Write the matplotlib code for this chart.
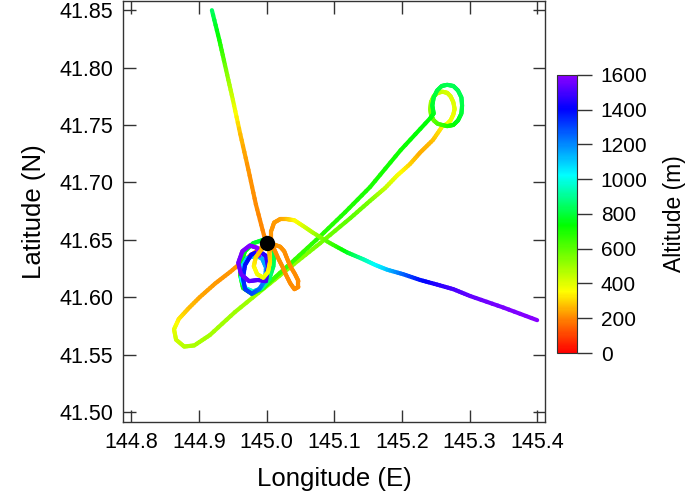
import numpy as np
import matplotlib
matplotlib.use('Agg')
import matplotlib.pyplot as plt
from matplotlib.collections import LineCollection
from matplotlib.colors import LinearSegmentedColormap, Normalize

plt.rcParams['font.family'] = ['Liberation Sans', 'DejaVu Sans']

# flight A: SW hairpin -> NE loops -> back to the circles over the airport
lon_a = [145.001, 144.987, 144.968, 144.946, 144.924, 144.901, 144.884, 144.870, 144.863, 144.866,
         144.878, 144.893, 144.916, 144.953, 145.005, 145.047, 145.079, 145.124, 145.153, 145.175,
         145.193, 145.212, 145.227, 145.246,
         # NE yellow loop
         145.260, 145.267, 145.272, 145.276, 145.278, 145.276, 145.272, 145.267, 145.260, 145.253,
         145.247, 145.243, 145.242, 145.243, 145.247, 145.253,
         # NE green loop
         145.267, 145.276, 145.283, 145.288, 145.289, 145.288, 145.283, 145.276, 145.267, 145.259,
         145.252, 145.247, 145.245, 145.247, 145.242,
         # back SW
         145.198, 145.153, 145.116, 145.079, 145.042, 145.008, 144.993,
         # circles over the airport
         144.978, 144.965, 144.961, 144.962, 144.968, 144.980, 144.995, 145.007, 145.011, 145.010,
         145.004, 144.993,
         144.980, 144.968, 144.962, 144.964, 144.971, 144.983, 144.993, 144.999, 144.998, 144.989,
         144.978, 144.968, 144.965, 144.968, 144.977, 144.989, 144.999, 145.002, 144.999,
         144.987, 144.974, 144.962, 144.958, 144.964, 144.975, 144.986, 144.989]
lat_a = [41.647, 41.641, 41.633, 41.622, 41.612, 41.600, 41.590, 41.581, 41.572, 41.563,
         41.557, 41.558, 41.567, 41.587, 41.612, 41.632, 41.647, 41.669, 41.684, 41.695,
         41.706, 41.716, 41.726, 41.737,
         41.749, 41.751, 41.754, 41.759, 41.764, 41.770, 41.775, 41.778, 41.779, 41.778,
         41.775, 41.770, 41.764, 41.759, 41.754, 41.751,
         41.749, 41.750, 41.754, 41.760, 41.767, 41.774, 41.780, 41.784, 41.785, 41.784,
         41.780, 41.774, 41.767, 41.760, 41.756,
         41.728, 41.696, 41.674, 41.653, 41.633, 41.615, 41.607,
         41.603, 41.608, 41.619, 41.630, 41.640, 41.647, 41.650, 41.647, 41.638, 41.627,
         41.616, 41.608,
         41.605, 41.608, 41.617, 41.627, 41.634, 41.636, 41.634, 41.626, 41.615, 41.607,
         41.603, 41.607, 41.617, 41.628, 41.637, 41.640, 41.636, 41.627, 41.614,
         41.615, 41.614, 41.620, 41.630, 41.640, 41.645, 41.643, 41.636]
alt_a = [220, 220, 220, 220, 225, 240, 270, 320, 380, 420,
         460, 480, 490, 500, 510, 530, 560, 600, 560, 450,
         380, 300, 250, 270,
         330, 350, 370, 380, 390, 400, 400, 410, 420, 440,
         460, 490, 520, 550, 580, 620,
         680, 720, 760, 790, 810, 820, 830, 830, 830, 820,
         810, 800, 790, 770, 750,
         720, 700, 690, 680, 660, 650, 660,
         680, 700, 720, 740, 760, 780, 790, 800, 810, 830,
         860, 900,
         950, 1000, 1040, 1070, 1100, 1120, 1140, 1160, 1200, 1240,
         1290, 1320, 1350, 1380, 1410, 1440, 1460, 1480, 1500,
         1510, 1530, 1550, 1560, 1570, 1580, 1590, 1600]

# flight B: from the north to the airport, circuit, then out to the east
lon_b = [144.919, 144.930, 144.940, 144.950, 144.961, 144.973, 144.984, 144.996, 145.001,
         144.993, 144.984, 144.981, 144.986, 144.995, 145.002, 145.005, 145.004,
         145.010, 145.020, 145.026, 145.030, 145.035, 145.042, 145.047, 145.047, 145.041,
         145.035, 145.029, 145.023, 145.017, 145.011, 145.007, 145.007, 145.011, 145.020,
         145.030, 145.041, 145.054, 145.069, 145.094, 145.119, 145.143, 145.161, 145.178,
         145.202, 145.227, 145.252, 145.276, 145.301, 145.350, 145.400]
lat_b = [41.850, 41.824, 41.798, 41.772, 41.742, 41.711, 41.681, 41.654, 41.647,
         41.642, 41.635, 41.627, 41.620, 41.617, 41.622, 41.631, 41.640,
         41.646, 41.644, 41.640, 41.634, 41.627, 41.620, 41.614, 41.609, 41.607,
         41.612, 41.619, 41.627, 41.634, 41.642, 41.650, 41.658, 41.665, 41.668,
         41.668, 41.667, 41.662, 41.656, 41.647, 41.639, 41.633, 41.628, 41.624,
         41.620, 41.615, 41.611, 41.607, 41.601, 41.591, 41.580]
alt_b = [850, 720, 560, 420, 270, 220, 210, 200, 200,
         240, 290, 330, 370, 380, 360, 320, 270,
         230, 220, 215, 210, 210, 210, 210, 210, 210,
         210, 210, 210, 210, 210, 215, 220, 225, 230,
         270, 340, 400, 480, 620, 760, 920, 1020, 1100,
         1250, 1380, 1450, 1500, 1540, 1570, 1590]

airport_lon = 145.001
airport_lat = 41.647

x_ticks = [144.8, 144.9, 145.0, 145.1, 145.2, 145.3, 145.4]
y_ticks = [41.50, 41.55, 41.60, 41.65, 41.70, 41.75, 41.80, 41.85]
alt_ticks = [0, 200, 400, 600, 800, 1000, 1200, 1400, 1600]

cmap = LinearSegmentedColormap.from_list('alt', [(0.0, '#ff0000'), (0.12, '#ff8000'), (0.22, '#ffff00'),
                                                 (0.46, '#00ff00'), (0.64, '#00ffff'), (0.88, '#0000ff'),
                                                 (1.0, '#8c00ff')])
norm = Normalize(0, 1600)

fig = plt.figure(figsize=(6.85, 5.01), dpi=100)
ax = fig.add_axes([0.180, 0.157, 0.616, 0.841])

n_sub = 6  # split each leg so the colour shades smoothly along it
for lo, la, al in [(lon_a, lat_a, alt_a), (lon_b, lat_b, alt_b)]:
    lo = np.array(lo)
    la = np.array(la)
    al = np.array(al, dtype=float)
    segs = []
    cols = []
    for i in range(len(lo) - 1):
        f = np.linspace(0, 1, n_sub + 1)
        xs = lo[i] + (lo[i + 1] - lo[i]) * f
        ys = la[i] + (la[i + 1] - la[i]) * f
        zs = al[i] + (al[i + 1] - al[i]) * f
        for k in range(n_sub):
            segs.append([(xs[k], ys[k]), (xs[k + 1], ys[k + 1])])
            cols.append((zs[k] + zs[k + 1]) / 2)
    lc = LineCollection(segs, cmap=cmap, norm=norm, linewidths=3, capstyle='round', joinstyle='round')
    lc.set_array(np.array(cols))
    ax.add_collection(lc)

ax.plot(airport_lon, airport_lat, 'o', color='k', markersize=10, zorder=5)

ax.set_xlim(144.788, 145.412)
ax.set_ylim(41.491, 41.858)
ax.set_xticks(x_ticks)
ax.set_xticklabels(['%.1f' % v for v in x_ticks])
ax.set_yticks(y_ticks)
ax.set_yticklabels(['%.2f' % v for v in y_ticks])
ax.tick_params(direction='in', top=True, right=True, length=9, width=1, color='#333333',
               labelsize=15.5, pad=7)
for s in ax.spines.values():
    s.set_color('#333333')
    s.set_linewidth(1)
ax.set_xlabel('Longitude (E)', fontsize=18.5, labelpad=10)
ax.set_ylabel('Latitude (N)', fontsize=18.5, labelpad=10)

cax = fig.add_axes([0.813, 0.2954, 0.0296, 0.555])
sm = plt.cm.ScalarMappable(norm=norm, cmap=cmap)
cb = fig.colorbar(sm, cax=cax, ticks=alt_ticks)
cb.outline.set_edgecolor('#333333')
cb.set_label('Altitude (m)', fontsize=16.5, labelpad=11)
cax.tick_params(length=11, width=1, color='#333333', labelsize=15, pad=6)

fig.savefig('out.png', dpi=100)
